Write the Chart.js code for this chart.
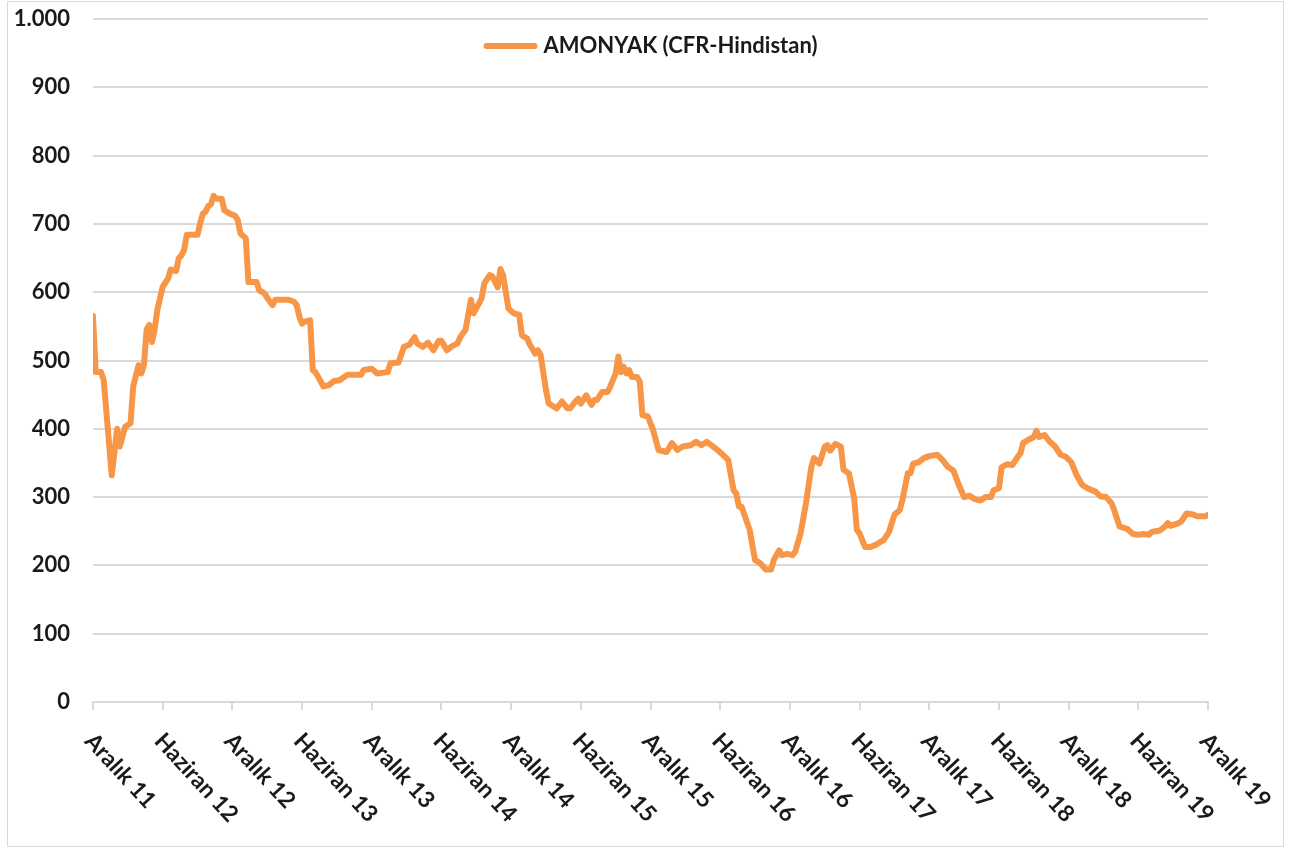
<!DOCTYPE html>
<html>
<head>
<meta charset="utf-8">
<script src="https://cdn.jsdelivr.net/npm/chart.js@4.4.1/dist/chart.umd.min.js"></script>
<style>
    html, body { margin: 0; padding: 0; background: #fff; }
    .wrap { position: relative; width: 1290px; height: 853px; }
    .frame {
        position: absolute; left: 7px; top: 1px; width: 1275px; height: 844px;
        border: 1px solid #d9d9d9; pointer-events: none;
    }
</style>
</head>
<body>
<div class="wrap">
    <canvas id="ammoniaChart" width="1290" height="853"></canvas>
    <div class="frame"></div>
</div>
<script>
// Data (x = weeks since Aralık 11)
const weeks = [0, 1, 3, 4, 7, 9, 10, 12, 14, 15, 17, 18, 19, 20, 21, 22, 23, 24, 26, 28, 29, 31, 32, 33, 34, 35, 39, 40, 41, 42, 43, 44, 45, 46, 48, 49, 51, 53, 54, 55, 57, 58, 61, 62, 64, 66, 67, 68, 73, 75, 76, 77, 78, 79, 81, 82, 83, 86, 88, 90, 92, 93, 95, 100, 101, 104, 106, 110, 111, 114, 116, 118, 120, 121, 123, 125, 127, 129, 130, 132, 134, 136, 137, 139, 141, 142, 145, 146, 148, 149, 151, 152, 153, 155, 157, 159, 160, 162, 163, 165, 166, 167, 169, 170, 173, 175, 177, 178, 180, 181, 182, 184, 186, 187, 188, 190, 192, 193, 195, 196, 197, 198, 199, 200, 201, 203, 204, 205, 207, 209, 211, 214, 216, 218, 220, 223, 225, 227, 229, 231, 233, 235, 237, 239, 240, 241, 242, 245, 247, 249, 251, 253, 254, 256, 257, 259, 261, 262, 264, 266, 268, 269, 271, 273, 274, 275, 277, 279, 280, 282, 284, 285, 286, 288, 290, 292, 294, 295, 297, 299, 301, 302, 304, 305, 306, 308, 310, 312, 315, 317, 319, 321, 323, 325, 327, 329, 331, 333, 335, 336, 338, 339, 341, 343, 345, 346, 347, 349, 351, 352, 353, 355, 357, 359, 361, 363, 365, 367, 369, 371, 374, 376, 378, 380, 381, 383, 386, 388, 390, 392, 394, 395, 398, 400, 401, 402, 405, 406, 408, 410, 412, 415, 416];
const prices = [565, 483, 483, 471, 332, 400, 374, 403, 408, 462, 493, 481, 493, 545, 552, 527, 545, 574, 608, 620, 633, 631, 650, 654, 662, 684, 684, 701, 715, 718, 726, 729, 741, 737, 737, 720, 715, 712, 706, 686, 679, 615, 615, 603, 598, 586, 581, 589, 589, 586, 581, 564, 554, 557, 559, 486, 483, 462, 464, 470, 471, 474, 479, 479, 486, 488, 481, 483, 496, 497, 520, 523, 534, 525, 520, 526, 515, 529, 529, 515, 521, 525, 534, 545, 589, 569, 591, 613, 625, 623, 607, 634, 625, 576, 569, 567, 537, 532, 523, 510, 515, 508, 457, 437, 430, 440, 430, 430, 440, 444, 437, 449, 435, 442, 442, 454, 454, 462, 481, 506, 483, 491, 481, 486, 476, 476, 469, 420, 418, 398, 369, 366, 379, 369, 374, 376, 381, 376, 381, 375, 369, 362, 354, 310, 305, 286, 286, 252, 208, 203, 194, 194, 208, 222, 215, 217, 215, 220, 247, 291, 344, 357, 349, 374, 376, 368, 378, 374, 340, 335, 298, 252, 247, 227, 227, 230, 235, 237, 249, 274, 281, 296, 335, 335, 349, 351, 357, 360, 362, 354, 344, 339, 318, 300, 302, 297, 295, 300, 300, 310, 313, 344, 348, 347, 359, 364, 379, 384, 388, 397, 388, 391, 381, 374, 362, 359, 351, 332, 318, 313, 308, 301, 300, 291, 281, 257, 253, 246, 245, 246, 245, 249, 251, 257, 262, 258, 262, 264, 276, 275, 272, 272, 274];
const tickLabels = ['Aralık 11', 'Haziran 12', 'Aralık 12', 'Haziran 13', 'Aralık 13', 'Haziran 14', 'Aralık 14', 'Haziran 15', 'Aralık 15', 'Haziran 16', 'Aralık 16', 'Haziran 17', 'Aralık 17', 'Haziran 18', 'Aralık 18', 'Haziran 19', 'Aralık 19'];
const seriesName = 'AMONYAK (CFR-Hindistan)';
const weeksPerTick = 26;

const FONT = 'Lato, "Open Sans", sans-serif';
const TEXT_COLOR = '#1a1a1a';
const GRID_COLOR = '#d9d9d9';
const LINE_COLOR = '#f79646';

// Rotated category labels (clockwise 45deg, starting at the tick)
const slantedLabels = {
    id: 'slantedLabels',
    afterDraw(chart) {
        const xs = chart.scales.x;
        const ctx = chart.ctx;
        ctx.save();
        ctx.font = 'bold 23px ' + FONT;
        ctx.fillStyle = TEXT_COLOR;
        ctx.textAlign = 'left';
        ctx.textBaseline = 'middle';
        tickLabels.forEach((label, i) => {
            const px = xs.getPixelForValue(i * weeksPerTick);
            ctx.save();
            ctx.translate(px - 4, xs.top + 35);
            ctx.rotate(Math.PI / 4 + 0.04);
            ctx.fillText(label, 0, 0);
            ctx.restore();
        });
        ctx.restore();
    }
};

// Legend inside the plot, centred near the top
const innerLegend = {
    id: 'innerLegend',
    afterDraw(chart) {
        const area = chart.chartArea;
        const ctx = chart.ctx;
        const sample = 54, gap = 6;
        ctx.save();
        ctx.font = 'bold 22px ' + FONT;
        const textW = ctx.measureText(seriesName).width;
        const start = (area.left + area.right) / 2 - (sample + gap + textW) / 2;
        const y = area.top + 27;
        ctx.strokeStyle = LINE_COLOR;
        ctx.lineWidth = 6;
        ctx.lineCap = 'round';
        ctx.beginPath();
        ctx.moveTo(start + 3, y);
        ctx.lineTo(start + sample - 3, y);
        ctx.stroke();
        ctx.fillStyle = TEXT_COLOR;
        ctx.textAlign = 'left';
        ctx.textBaseline = 'middle';
        ctx.fillText(seriesName, start + sample + gap, y);
        ctx.restore();
    }
};

document.addEventListener('DOMContentLoaded', () => {
    const ctx = document.getElementById('ammoniaChart').getContext('2d');
    new Chart(ctx, {
        type: 'line',
        data: {
            datasets: [{
                label: seriesName,
                data: weeks.map((w, i) => ({ x: w, y: prices[i] })),
                borderColor: LINE_COLOR,
                backgroundColor: LINE_COLOR,
                borderWidth: 6,
                borderCapStyle: 'round',
                borderJoinStyle: 'round',
                tension: 0,
                fill: false,
                pointRadius: 0
            }]
        },
        options: {
            responsive: false,
            animation: false,
            layout: { padding: { top: 19, right: 82, left: 0, bottom: 0 } },
            scales: {
                x: {
                    type: 'linear',
                    min: 0,
                    max: weeks[weeks.length - 1],
                    ticks: { display: false, stepSize: weeksPerTick },
                    afterBuildTicks: (s) => {
                        s.ticks = tickLabels.map((_, i) => ({ value: i * weeksPerTick }));
                    },
                    afterFit: (s) => { s.height = 151; },
                    grid: { drawOnChartArea: false, color: GRID_COLOR, lineWidth: 2, tickLength: 8 },
                    border: { color: GRID_COLOR, width: 2 }
                },
                y: {
                    min: 0,
                    max: 1000,
                    ticks: {
                        stepSize: 100,
                        padding: 23,
                        color: TEXT_COLOR,
                        font: { family: FONT, size: 22, weight: 'bold' },
                        callback: (v) => v.toLocaleString('tr-TR')
                    },
                    afterFit: (s) => {
                        s.width = 93;
                        s.paddingTop = 0;
                        s.paddingBottom = 0;
                    },
                    grid: { color: GRID_COLOR, lineWidth: 2, drawTicks: false },
                    border: { display: false }
                }
            },
            plugins: {
                legend: { display: false },
                tooltip: { enabled: false }
            }
        },
        plugins: [slantedLabels, innerLegend]
    });
});
</script>
</body>
</html>
